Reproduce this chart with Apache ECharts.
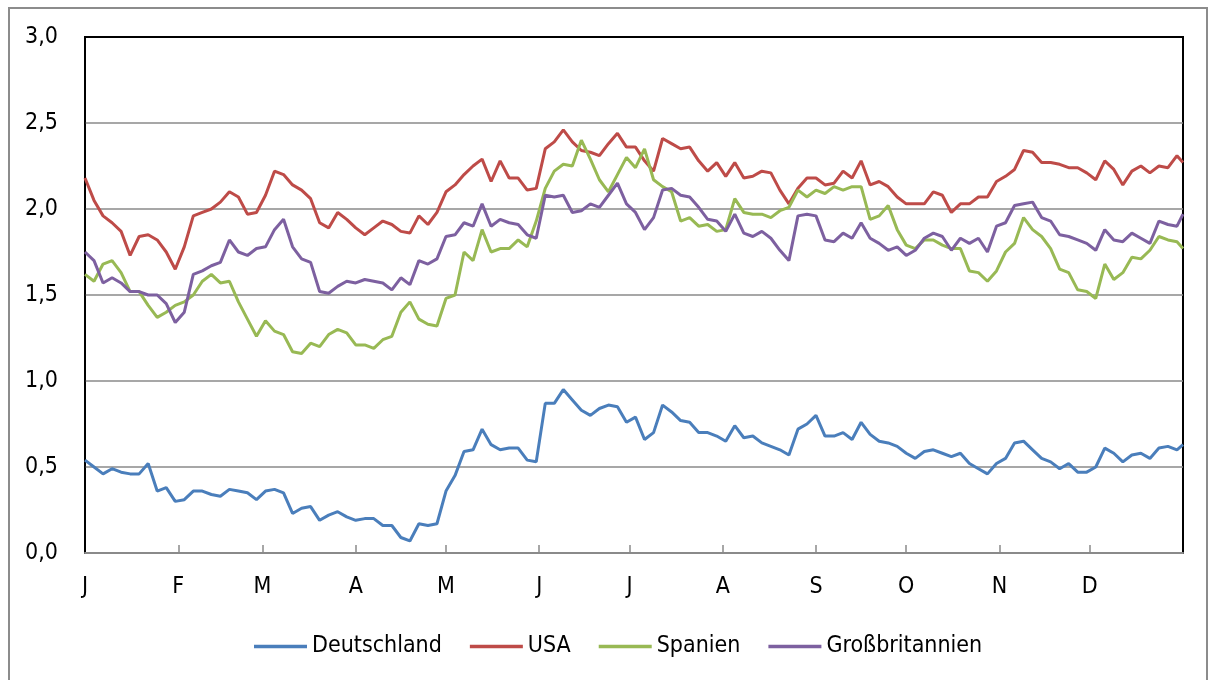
<!DOCTYPE html>
<html>
<head>
<meta charset="utf-8">
<script src="https://cdn.jsdelivr.net/npm/echarts@6/dist/echarts.min.js"></script>
<style>
  html, body { margin: 0; padding: 0; background: #fff; }
  #chart { width: 1214px; height: 680px; }
</style>
</head>
<body>
<div id="chart"></div>
<script>
// one value every 3 days (last point = day 365)
const STEP = 3
const monthStarts = [0, 31, 59, 90, 120, 151, 181, 212, 243, 273, 304, 334]
const monthLabels = ['J', 'F', 'M', 'A', 'M', 'J', 'J', 'A', 'S', 'O', 'N', 'D']
const yTicks = [0, 0.5, 1, 1.5, 2, 2.5, 3]

const deutschland = [
  0.54, 0.50, 0.46, 0.49, 0.47, 0.46, 0.46, 0.52, 0.36, 0.38, 0.30, 0.31, 0.36, 0.36, 0.34, 0.33, 0.37, 0.36, 0.35, 0.31, 0.36,
  0.37, 0.35, 0.23, 0.26, 0.27, 0.19, 0.22, 0.24, 0.21, 0.19, 0.20, 0.20, 0.16, 0.16, 0.09, 0.07, 0.17, 0.16, 0.17,
  0.36, 0.45, 0.59, 0.60, 0.72, 0.63, 0.60, 0.61, 0.61, 0.54, 0.53, 0.87, 0.87, 0.95, 0.89, 0.83, 0.80, 0.84, 0.86, 0.85,
  0.76, 0.79, 0.66, 0.70, 0.86, 0.82, 0.77, 0.76, 0.70, 0.70, 0.68, 0.65, 0.74, 0.67, 0.68, 0.64, 0.62, 0.60, 0.57, 0.72,
  0.75, 0.80, 0.68, 0.68, 0.70, 0.66, 0.76, 0.69, 0.65, 0.64, 0.62, 0.58, 0.55, 0.59, 0.60, 0.58, 0.56, 0.58, 0.52, 0.49,
  0.46, 0.52, 0.55, 0.64, 0.65, 0.60, 0.55, 0.53, 0.49, 0.52, 0.47, 0.47, 0.50, 0.61, 0.58, 0.53, 0.57, 0.58, 0.55, 0.61, 0.62, 0.60,
  0.63
]
const usa = [
  2.18, 2.05, 1.96, 1.92, 1.87, 1.73, 1.84, 1.85, 1.82, 1.75, 1.65, 1.78, 1.96, 1.98, 2.00, 2.04, 2.10, 2.07, 1.97, 1.98, 2.08,
  2.22, 2.20, 2.14, 2.11, 2.06, 1.92, 1.89, 1.98, 1.94, 1.89, 1.85, 1.89, 1.93, 1.91, 1.87, 1.86, 1.96, 1.91, 1.98,
  2.10, 2.14, 2.20, 2.25, 2.29, 2.16, 2.28, 2.18, 2.18, 2.11, 2.12, 2.35, 2.39, 2.46, 2.39, 2.34, 2.33, 2.31, 2.38, 2.44,
  2.36, 2.36, 2.28, 2.22, 2.41, 2.38, 2.35, 2.36, 2.28, 2.22, 2.27, 2.19, 2.27, 2.18, 2.19, 2.22, 2.21, 2.11, 2.03, 2.12,
  2.18, 2.18, 2.14, 2.15, 2.22, 2.18, 2.28, 2.14, 2.16, 2.13, 2.07, 2.03, 2.03, 2.03, 2.10, 2.08, 1.98, 2.03, 2.03, 2.07,
  2.07, 2.16, 2.19, 2.23, 2.34, 2.33, 2.27, 2.27, 2.26, 2.24, 2.24, 2.21, 2.17, 2.28, 2.23, 2.14, 2.22, 2.25, 2.21, 2.25, 2.24, 2.31,
  2.27
]
const spanien = [
  1.62, 1.58, 1.68, 1.70, 1.63, 1.52, 1.52, 1.44, 1.37, 1.40, 1.44, 1.46, 1.50, 1.58, 1.62, 1.57, 1.58, 1.46, 1.36, 1.26, 1.35,
  1.29, 1.27, 1.17, 1.16, 1.22, 1.20, 1.27, 1.30, 1.28, 1.21, 1.21, 1.19, 1.24, 1.26, 1.40, 1.46, 1.36, 1.33, 1.32,
  1.48, 1.50, 1.75, 1.70, 1.88, 1.75, 1.77, 1.77, 1.82, 1.78, 1.93, 2.12, 2.22, 2.26, 2.25, 2.40, 2.29, 2.17, 2.10, 2.20,
  2.30, 2.24, 2.35, 2.17, 2.13, 2.10, 1.93, 1.95, 1.90, 1.91, 1.87, 1.88, 2.06, 1.98, 1.97, 1.97, 1.95, 1.99, 2.01, 2.11,
  2.07, 2.11, 2.09, 2.13, 2.11, 2.13, 2.13, 1.94, 1.96, 2.02, 1.88, 1.79, 1.77, 1.82, 1.82, 1.79, 1.77, 1.77, 1.64, 1.63,
  1.58, 1.64, 1.75, 1.80, 1.95, 1.88, 1.84, 1.77, 1.65, 1.63, 1.53, 1.52, 1.48, 1.68, 1.59, 1.63, 1.72, 1.71, 1.76, 1.84, 1.82, 1.81,
  1.77
]
const grossbritannien = [
  1.75, 1.70, 1.57, 1.60, 1.57, 1.52, 1.52, 1.50, 1.50, 1.45, 1.34, 1.40, 1.62, 1.64, 1.67, 1.69, 1.82, 1.75, 1.73, 1.77, 1.78,
  1.88, 1.94, 1.78, 1.71, 1.69, 1.52, 1.51, 1.55, 1.58, 1.57, 1.59, 1.58, 1.57, 1.53, 1.60, 1.56, 1.70, 1.68, 1.71,
  1.84, 1.85, 1.92, 1.90, 2.03, 1.90, 1.94, 1.92, 1.91, 1.85, 1.83, 2.08, 2.07, 2.08, 1.98, 1.99, 2.03, 2.01, 2.08, 2.15,
  2.03, 1.98, 1.88, 1.95, 2.11, 2.12, 2.08, 2.07, 2.01, 1.94, 1.93, 1.87, 1.97, 1.86, 1.84, 1.87, 1.83, 1.76, 1.70, 1.96,
  1.97, 1.96, 1.82, 1.81, 1.86, 1.83, 1.92, 1.83, 1.80, 1.76, 1.78, 1.73, 1.76, 1.83, 1.86, 1.84, 1.76, 1.83, 1.80, 1.83,
  1.75, 1.90, 1.92, 2.02, 2.03, 2.04, 1.95, 1.93, 1.85, 1.84, 1.82, 1.80, 1.76, 1.88, 1.82, 1.81, 1.86, 1.83, 1.80, 1.93, 1.91, 1.90,
  1.97
]

const FONT = '"Liberation Sans Narrow", "DejaVu Sans Condensed", sans-serif'
const FONT_SIZE = 23

// x position of each value: its day of the year
function withDays(values) {
  return values.map((v, i) => [Math.min(i * STEP, 365), v])
}

const seriesDefs = [
  { name: 'Deutschland', data: deutschland, color: '#4a7ebb' },
  { name: 'USA', data: usa, color: '#be4b48' },
  { name: 'Spanien', data: spanien, color: '#98b954' },
  { name: 'Großbritannien', data: grossbritannien, color: '#7d60a0' }
]

const chart = echarts.init(document.getElementById('chart'))
chart.setOption({
  animation: false,
  backgroundColor: '#fff',
  textStyle: { fontFamily: FONT },
  graphic: [{
    type: 'rect',
    shape: { x: 9, y: 8, width: 1198, height: 700 },
    style: { fill: 'none', stroke: '#8c8c8c', lineWidth: 2 },
    silent: true
  }],
  grid: {
    left: 85, top: 37, width: 1098, height: 516,
    show: true, borderColor: '#000', borderWidth: 2, backgroundColor: 'transparent'
  },
  legend: {
    left: 249, top: 630,
    icon: 'rect', itemWidth: 53, itemHeight: 3.5, itemGap: 28,
    textStyle: { fontFamily: FONT, fontSize: FONT_SIZE, color: '#000' },
    data: seriesDefs.map(s => s.name)
  },
  xAxis: {
    type: 'value', min: 0, max: 365,
    axisLine: { show: true, lineStyle: { color: '#8a8a8a', width: 2 } },
    axisTick: { show: true, inside: true, length: 8, customValues: monthStarts.slice(1),
      lineStyle: { color: '#8a8a8a', width: 1.5 } },
    axisLabel: { customValues: monthStarts, margin: 23, fontFamily: FONT, fontSize: FONT_SIZE, color: '#000',
      formatter: v => monthLabels[monthStarts.indexOf(v)] || '' },
    splitLine: { show: false }
  },
  yAxis: {
    type: 'value', min: yTicks[0], max: yTicks[yTicks.length - 1], interval: 0.5,
    axisLine: { show: true, lineStyle: { color: '#000', width: 1.5 } },
    axisTick: { show: false },
    axisLabel: { margin: 27, fontFamily: FONT, fontSize: FONT_SIZE, color: '#000',
      formatter: v => v.toFixed(1).replace('.', ',') },
    splitLine: { show: true, showMinLine: false, showMaxLine: false,
      lineStyle: { color: '#8a8a8a', width: 1.5 } }
  },
  series: seriesDefs.map(s => ({
    name: s.name,
    type: 'line',
    data: withDays(s.data),
    symbol: 'none',
    color: s.color,
    lineStyle: { color: s.color, width: 3 }
  }))
})
</script>
</body>
</html>
